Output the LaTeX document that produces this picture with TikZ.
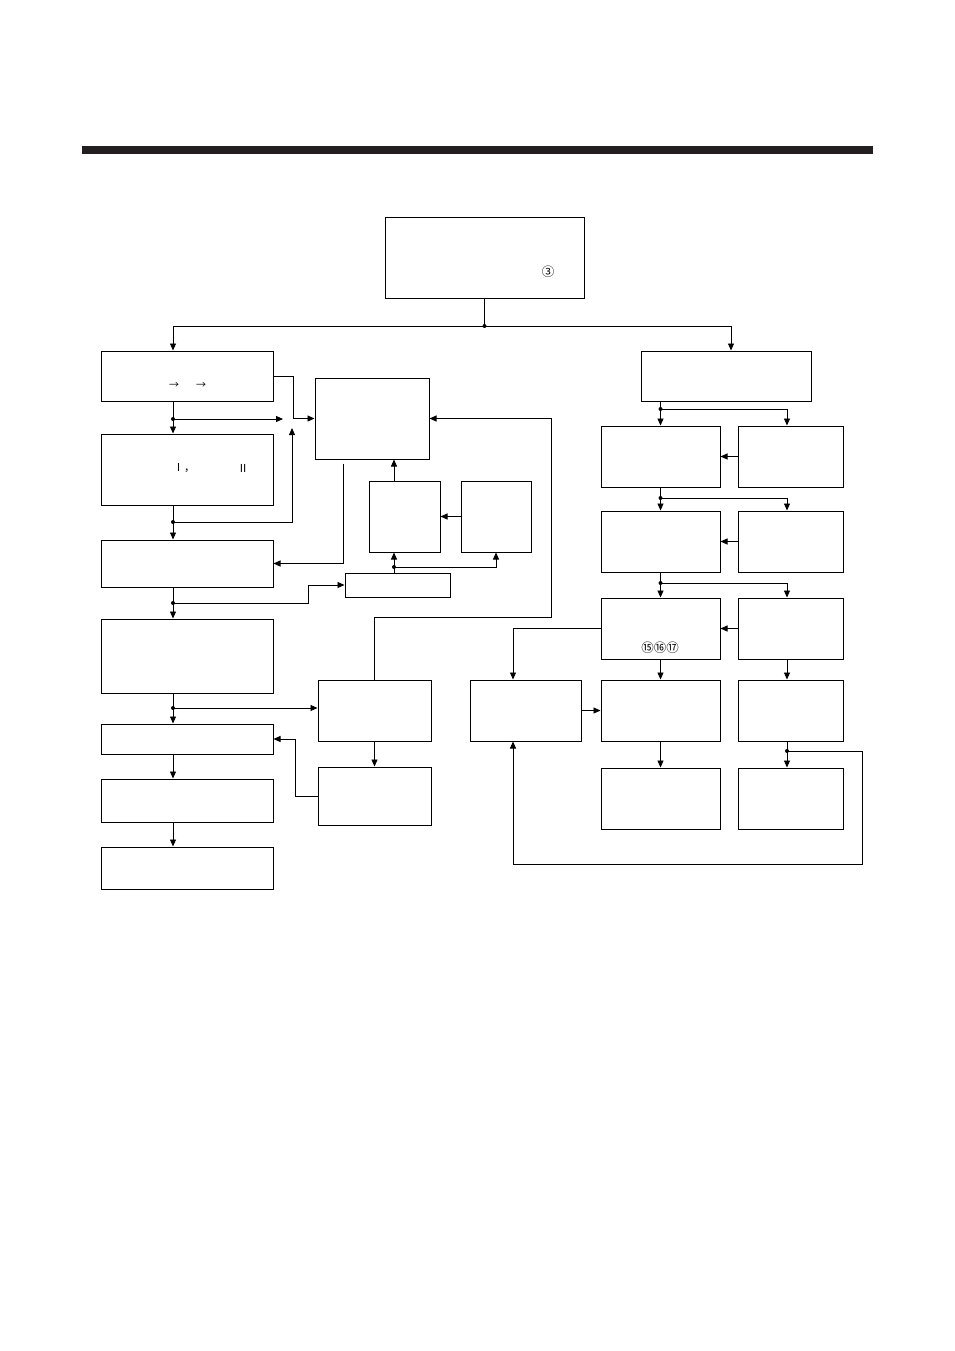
\documentclass[tikz,border=0pt]{standalone}
\usepackage{fontspec}
\newfontfamily\cjk{Noto Sans CJK SC}
\usetikzlibrary{arrows.meta}
\definecolor{barcol}{HTML}{231F20}

\begin{document}
\begin{tikzpicture}[x=1pt,y=-1pt,->,>={Triangle[length=7pt,width=6pt]},
                    line width=0.9pt]
  \tikzstyle{every node}=[font=\cjk\fontsize{10}{10}\selectfont]
  \tikzstyle{box}=[draw,rectangle,line width=1pt,inner sep=0pt]
  \tikzstyle{circnum}=[font=\cjk\fontsize{12.5}{12.5}\selectfont,inner sep=0pt]
  \tikzstyle{dot}=[fill=black,draw=none]

  \useasboundingbox (0,0) rectangle (954,1351);
  \fill[barcol] (82,146) rectangle (873,154);

  % top
  \node[box,minimum width=199pt,minimum height=81pt] (top) at (484.5,257.5) {};
  \node[circnum] (n3) at (548,272) {③};

  % left column
  \node[box,minimum width=172pt,minimum height=50pt] (a) at (187,376) {};
  \node[box,minimum width=172pt,minimum height=71pt] (b) at (187,469.5) {};
  \node[box,minimum width=172pt,minimum height=47pt] (c) at (187,563.5) {};
  \node[box,minimum width=172pt,minimum height=74pt] (d) at (187,656) {};
  \node[box,minimum width=172pt,minimum height=30pt] (e) at (187,739) {};
  \node[box,minimum width=172pt,minimum height=43pt] (f) at (187,800.5) {};
  \node[box,minimum width=172pt,minimum height=42pt] (g) at (187,868) {};
  \node (ar1) at (174,385) {→};
  \node (ar2) at (201,385) {→};
  \node[font=\cjk\fontsize{11}{11}\selectfont] (r1) at (184,468) {Ⅰ，};
  \node[font=\cjk\fontsize{11}{11}\selectfont] (r2) at (243,468) {Ⅱ};

  % middle
  \node[box,minimum width=114pt,minimum height=81pt] (m) at (372,418.5) {};
  \node[box,minimum width=71pt,minimum height=71pt] (p) at (404.5,516.5) {};
  \node[box,minimum width=70pt,minimum height=71pt] (q) at (496,516.5) {};
  \node[box,minimum width=105pt,minimum height=24pt] (s) at (397.5,585) {};
  \node[box,minimum width=113pt,minimum height=61pt] (r) at (374.5,710.5) {};
  \node[box,minimum width=113pt,minimum height=58pt] (t) at (374.5,796) {};

  % right
  \node[box,minimum width=170pt,minimum height=50pt] (h) at (726,376) {};
  \node[box,minimum width=119pt,minimum height=61pt] (i1) at (660.5,456.5) {};
  \node[box,minimum width=105pt,minimum height=61pt] (j1) at (790.5,456.5) {};
  \node[box,minimum width=119pt,minimum height=61pt] (i2) at (660.5,541.5) {};
  \node[box,minimum width=105pt,minimum height=61pt] (j2) at (790.5,541.5) {};
  \node[box,minimum width=119pt,minimum height=61pt] (i3) at (660.5,628.5) {};
  \node[box,minimum width=105pt,minimum height=61pt] (j3) at (790.5,628.5) {};
  \node[box,minimum width=111pt,minimum height=61pt] (k) at (525.5,710.5) {};
  \node[box,minimum width=119pt,minimum height=61pt] (l1) at (660.5,710.5) {};
  \node[box,minimum width=105pt,minimum height=61pt] (l2) at (790.5,710.5) {};
  \node[box,minimum width=119pt,minimum height=61pt] (n1) at (660.5,798.5) {};
  \node[box,minimum width=105pt,minimum height=61pt] (n2) at (790.5,798.5) {};
  \node[circnum] (n151617) at (660,648) {⑮⑯⑰};

  % columns and junctions
  \coordinate (lc) at (173,0);
  \coordinate (rc) at (731,0);
  \coordinate (jc) at (787,0);
  \coordinate (kc) at (513,0);
  \coordinate (pc) at (394,0);
  \coordinate (mx) at (343,0);
  \coordinate (t0) at (484.5,326);
  \coordinate (d1) at (173,419);
  \coordinate (d2) at (173,522);
  \coordinate (d3) at (173,603);
  \coordinate (d4) at (173,708);
  \coordinate (e1) at (283,419);
  \coordinate (e2) at (292,428);
  \coordinate (s0) at (394,567);
  \coordinate (h0) at (660.5,409);
  \coordinate (h1) at (660.5,498);
  \coordinate (h2) at (660.5,583);
  \coordinate (h3) at (787,751);

  \path[-] (top.south) edge (t0);
  \draw (t0) -| (a.north -| lc);
  \draw (t0) -| (h.north -| rc);

  \draw (a.east) -- ++(20,0) |- (m.west);
  \draw (a.south -| lc) -- (b.north -| lc);
  \draw (d1) -- (e1);
  \draw (b.south -| lc) -- (c.north -| lc);
  \draw (d2) -| (e2);
  \draw ([yshift=-4pt]m.south -| mx) |- (c.east);
  \draw (c.south -| lc) -- (d.north -| lc);
  \draw (d3) -- ++(135,0) |- (s.west);
  \draw (s.north -| pc) -- (p.south -| pc);
  \draw (s0) -| (q.south);
  \draw (q.west) -- (p.east);
  \draw (p.north -| pc) -- (m.south -| pc);
  \draw (r.north) -- ++(0,-62) -| ([xshift=122pt]m.east) -- (m.east);
  \draw (d.south -| lc) -- (e.north -| lc);
  \draw (d4) -- (d4 -| r.west);
  \draw (r.south) -- (t.north);
  \draw (t.west) -- ++(-22,0) |- (e.east);
  \draw (e.south -| lc) -- (f.north -| lc);
  \draw (f.south -| lc) -- (g.north -| lc);

  \draw (h.south -| i1) -- (i1.north);
  \draw (h0) -| (j1.north -| jc);
  \draw (j1.west) -- (i1.east);
  \draw (i1.south) -- (i2.north);
  \draw (h1) -| (j2.north -| jc);
  \draw (j2.west) -- (i2.east);
  \draw (i2.south) -- (i3.north);
  \draw (h2) -| (j3.north -| jc);
  \draw (j3.west) -- (i3.east);
  \draw (i3.west) -| (k.north -| kc);
  \draw (k.east) -- (l1.west);
  \draw (i3.south) -- (l1.north);
  \draw (j3.south -| jc) -- (l2.north -| jc);
  \draw (l1.south) -- (n1.north);
  \draw (l2.south -| jc) -- (n2.north -| jc);
  \draw (h3) -- ++(75,0) -- ++(0,113) -| (k.south -| kc);

  \foreach \j in {t0,d1,d2,d3,d4,s0,h0,h1,h2,h3}
    \fill[dot] (\j) circle (2pt);
\end{tikzpicture}
\end{document}
